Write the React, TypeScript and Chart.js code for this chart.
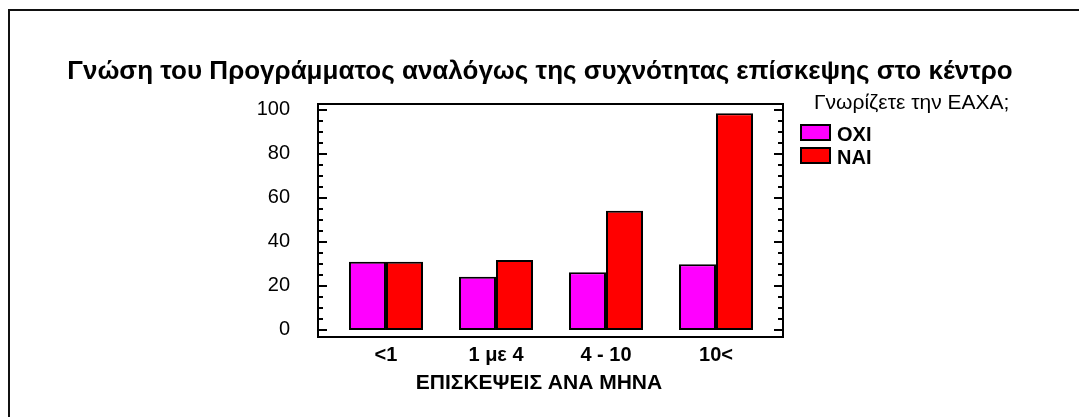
import React, { useEffect, useRef } from 'react';
import { Chart, registerables } from 'chart.js';

Chart.register(...registerables);

const categories = ['<1', '1 με 4', '4 - 10', '10<'];
const seriesLabels = ['ΟΧΙ', 'ΝΑΙ'];
const oxiValues = [31, 24.2, 26.2, 29.9];
const naiValues = [31, 31.8, 54.2, 98.5];
const yTickValues = [0, 20, 40, 60, 80, 100];
const yMinorStep = 5;
const titleText = 'Γνώση του Προγράμματος αναλόγως της συχνότητας επίσκεψης στο κέντρο';
const legendTitle = 'Γνωρίζετε την ΕΑΧΑ;';
const xAxisTitle = 'ΕΠΙΣΚΕΨΕΙΣ ΑΝΑ ΜΗΝΑ';

const W = 1079;
const H = 417;
const FONT = '"Liberation Sans", Arial, sans-serif';

const decor = {
  id: 'decor',
  beforeDraw(chart: any) {
    const ctx = chart.ctx;
    ctx.save();
    ctx.fillStyle = '#fff';
    ctx.fillRect(0, 0, W, H);
    ctx.strokeStyle = '#111';
    ctx.lineWidth = 2;
    ctx.beginPath();
    ctx.moveTo(9, H + 10);
    ctx.lineTo(9, 10);
    ctx.lineTo(W + 10, 10);
    ctx.stroke();
    ctx.font = 'bold 26px ' + FONT;
    ctx.fillStyle = '#000';
    ctx.textAlign = 'center';
    ctx.textBaseline = 'alphabetic';
    ctx.fillText(titleText, 540, 79);
    ctx.restore();
  },
  afterDatasetsDraw(chart: any) {
    const { ctx, chartArea: a, scales } = chart;
    const y = scales.y;
    ctx.save();
    ctx.strokeStyle = '#000';
    ctx.lineWidth = 2;
    ctx.strokeRect(a.left, a.top, a.right - a.left, a.bottom - a.top);
    const first = yTickValues[0];
    const last = yTickValues[yTickValues.length - 1];
    for (let v = first; v <= last; v += yMinorStep) {
      const py = Math.round(y.getPixelForValue(v));
      const major = yTickValues.includes(v);
      const len = major ? 9 : 5;
      ctx.beginPath();
      ctx.moveTo(a.left, py);
      ctx.lineTo(a.left + len, py);
      ctx.moveTo(a.right, py);
      ctx.lineTo(a.right - len, py);
      ctx.stroke();
    }
    // x axis title
    ctx.fillStyle = '#000';
    ctx.font = 'bold 21px ' + FONT;
    ctx.textAlign = 'center';
    ctx.textBaseline = 'alphabetic';
    ctx.fillText(xAxisTitle, 539, 389);
    // legend
    ctx.textAlign = 'left';
    ctx.font = '21px ' + FONT;
    ctx.fillText(legendTitle, 814, 109);
    ctx.font = 'bold 20px ' + FONT;
    chart.data.datasets.forEach((ds: any, i: number) => {
      const top = 125 + i * 23;
      ctx.fillStyle = ds.backgroundColor;
      ctx.fillRect(801, top, 29, 15);
      ctx.lineWidth = 2;
      ctx.strokeStyle = '#000';
      ctx.strokeRect(801, top, 29, 15);
      ctx.fillStyle = '#000';
      ctx.fillText(ds.label, 837, top + 16);
    });
    ctx.restore();
  },
};

export default function App() {
  const ref = useRef<HTMLCanvasElement>(null);
  useEffect(() => {
    const canvas = ref.current;
    if (!canvas) return;
    const chart = new Chart(canvas, {
      type: 'bar',
      data: {
        datasets: [
          {
            label: seriesLabels[0],
            data: oxiValues.map((v, i) => ({ x: i, y: v })),
            backgroundColor: '#FF00FF',
            borderColor: '#000',
            borderWidth: 2,
            borderSkipped: false,
            categoryPercentage: 0.673,
            barPercentage: 1,
          },
          {
            label: seriesLabels[1],
            data: naiValues.map((v, i) => ({ x: i, y: v })),
            backgroundColor: '#FF0000',
            borderColor: '#000',
            borderWidth: 2,
            borderSkipped: false,
            categoryPercentage: 0.673,
            barPercentage: 1,
          },
        ],
      },
      options: {
        responsive: false,
        animation: false,
        devicePixelRatio: 1,
        layout: { padding: { top: 104, right: W - 783, left: 0, bottom: 0 } },
        plugins: {
          legend: { display: false },
          title: { display: false },
          tooltip: { enabled: false },
        },
        scales: {
          x: {
            type: 'linear',
            min: -0.618,
            max: 3.609,
            offset: false,
            grid: { display: false, drawTicks: false },
            border: { display: false },
            afterBuildTicks: (scale: any) => {
              scale.ticks = categories.map((_, i) => ({ value: i }));
            },
            afterFit: (scale: any) => {
              scale.height = H - 337;
            },
            ticks: {
              padding: 6,
              color: '#000',
              font: { family: FONT, size: 20, weight: 'bold' },
              callback: (v: any) => categories[v] ?? '',
              maxRotation: 0,
              autoSkip: false,
            },
          },
          y: {
            min: -3.2,
            max: 102.7,
            grid: { display: false, drawTicks: false },
            border: { display: false },
            afterBuildTicks: (scale: any) => {
              scale.ticks = yTickValues.map((v) => ({ value: v }));
            },
            afterFit: (scale: any) => {
              scale.width = 318;
            },
            ticks: {
              padding: 28,
              color: '#000',
              font: { family: FONT, size: 20 },
            },
          },
        },
      } as any,
      plugins: [decor],
    });
    return () => chart.destroy();
  }, []);
  return (
    <div style={{ position: 'fixed', left: 0, top: 0, width: W, height: H }}>
      <canvas ref={ref} width={W} height={H} style={{ display: 'block' }} />
    </div>
  );
}
